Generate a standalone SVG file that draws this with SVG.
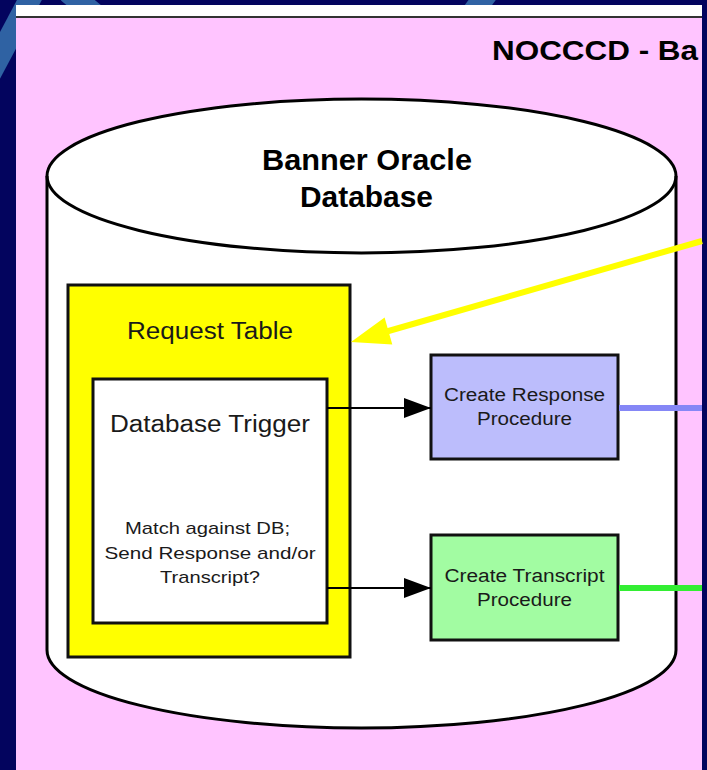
<svg xmlns="http://www.w3.org/2000/svg" width="707" height="770" viewBox="0 0 707 770">
  <style>
    .t { font-family: "Liberation Sans", Arial, sans-serif; fill: #1a1a1a; }
    .b { font-weight: bold; fill: #000; }
    .box { stroke: #111; stroke-width: 3; }
    .swoosh { stroke: #2f62a3; stroke-width: 22; fill: none; }
  </style>
  <defs>
    <marker id="blk" viewBox="0 0 27 20" refX="27" refY="10" markerWidth="27" markerHeight="20" markerUnits="userSpaceOnUse" orient="auto">
      <path d="M0,0 L27,10 L0,20 Z" fill="#000"/>
    </marker>
  </defs>

  <!-- slide background -->
  <rect x="0" y="0" width="707" height="770" fill="#03045e"/>
  <path class="swoosh" d="M40,-20 L-12,78"/>
  <path class="swoosh" d="M68,-8 L104,22"/>
  <path class="swoosh" d="M488,-8 L466,22"/>

  <!-- panel -->
  <rect x="16" y="5" width="686" height="12" fill="#ffffff"/>
  <rect x="16" y="17" width="686" height="753" fill="#ffc4ff"/>
  <line x1="16" y1="17" x2="702" y2="17" stroke="#333" stroke-width="2"/>

  <text class="t b" x="492" y="60" font-size="27" textLength="206" lengthAdjust="spacingAndGlyphs">NOCCCD - Ba</text>

  <!-- cylinder -->
  <g id="banner-db">
    <path d="M47,176 A314.5,77 0 0 1 676,176 L676,650 A314.5,78 0 0 1 47,650 Z" fill="#ffffff" stroke="#000" stroke-width="3"/>
    <path d="M47,176 A314.5,77 0 0 0 676,176" fill="none" stroke="#000" stroke-width="3"/>
    <text class="t b" x="367" y="170" font-size="29" text-anchor="middle" textLength="210" lengthAdjust="spacingAndGlyphs">Banner Oracle</text>
    <text class="t b" x="366.5" y="207" font-size="29" text-anchor="middle" textLength="133" lengthAdjust="spacingAndGlyphs">Database</text>
  </g>

  <g id="request-table">
    <rect class="box" x="68" y="285" width="282" height="372" fill="#ffff00"/>
    <text class="t" x="210" y="339" font-size="23" text-anchor="middle" textLength="166" lengthAdjust="spacingAndGlyphs">Request Table</text>
  </g>

  <g id="db-trigger">
    <rect class="box" x="93" y="379" width="234" height="244" fill="#ffffff"/>
    <text class="t" x="210" y="432" font-size="23.5" text-anchor="middle" textLength="200" lengthAdjust="spacingAndGlyphs">Database Trigger</text>
    <text class="t" x="207.5" y="534" font-size="17" text-anchor="middle" textLength="165" lengthAdjust="spacingAndGlyphs">Match against DB;</text>
    <text class="t" x="210" y="559" font-size="17" text-anchor="middle" textLength="211" lengthAdjust="spacingAndGlyphs">Send Response and/or</text>
    <text class="t" x="210" y="583" font-size="17" text-anchor="middle" textLength="100" lengthAdjust="spacingAndGlyphs">Transcript?</text>
  </g>

  <g id="create-response">
    <rect class="box" x="431" y="355" width="187" height="104" fill="#bcbdfc"/>
    <text class="t" x="524.5" y="401" font-size="18" text-anchor="middle" textLength="161" lengthAdjust="spacingAndGlyphs">Create Response</text>
    <text class="t" x="524.5" y="425" font-size="18" text-anchor="middle" textLength="95" lengthAdjust="spacingAndGlyphs">Procedure</text>
  </g>

  <g id="create-transcript">
    <rect class="box" x="431" y="535" width="187" height="105" fill="#a2fca2"/>
    <text class="t" x="524.5" y="582" font-size="18" text-anchor="middle" textLength="160" lengthAdjust="spacingAndGlyphs">Create Transcript</text>
    <text class="t" x="524.5" y="606" font-size="18" text-anchor="middle" textLength="95" lengthAdjust="spacingAndGlyphs">Procedure</text>
  </g>

  <g id="connectors">
    <line x1="327" y1="408" x2="431" y2="408" stroke="#000" stroke-width="2" marker-end="url(#blk)"/>
    <line x1="327" y1="588" x2="431" y2="588" stroke="#000" stroke-width="2" marker-end="url(#blk)"/>
    <line x1="619" y1="408" x2="702" y2="408" stroke="#8587f6" stroke-width="6"/>
    <line x1="619" y1="588" x2="702" y2="588" stroke="#33ee33" stroke-width="6"/>
    <line x1="702" y1="241" x2="385" y2="332" stroke="#ffff00" stroke-width="6"/>
    <path d="M351,342 L384.6,317.5 L392.3,344.5 Z" fill="#ffff00"/>
  </g>
</svg>
